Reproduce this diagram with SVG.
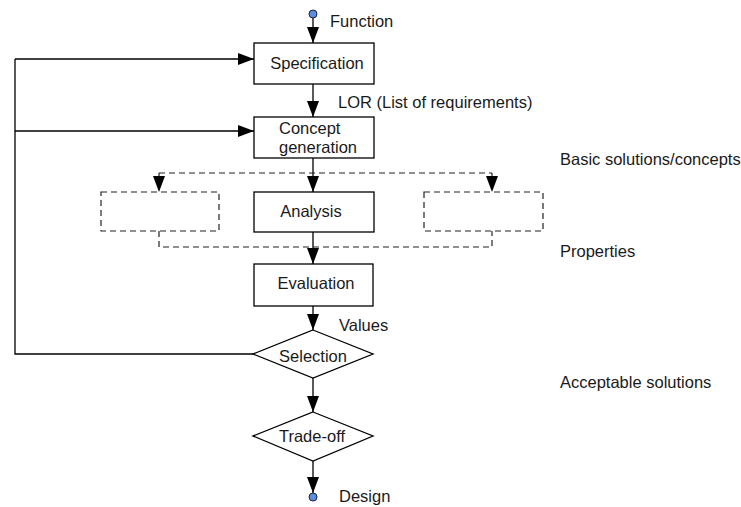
<svg xmlns="http://www.w3.org/2000/svg" width="741" height="507" viewBox="0 0 741 507">
<defs>
<marker id="ah" markerUnits="userSpaceOnUse" markerWidth="16" markerHeight="12" viewBox="0 0 16 12" refX="16" refY="6" orient="auto">
<polygon points="0,0 16,6 0,12" fill="#000"/>
</marker>
</defs>
<style>
text{font-family:"Liberation Sans",Arial,sans-serif;font-size:16.5px;fill:#1a1a1a}
.box{fill:#fff;stroke:#000;stroke-width:1.3}
.dbox{fill:#fff;stroke:#222;stroke-width:1.2;stroke-dasharray:6,4}
.ln{fill:none;stroke:#000;stroke-width:1.3}
.dl{fill:none;stroke:#222;stroke-width:1.2;stroke-dasharray:6,4}
.pt{fill:#5b8de0;stroke:#223;stroke-width:1}
.mid{text-anchor:middle}
</style>
<rect width="741" height="507" fill="#fff"/>
<g id="connectors">
<line class="ln" x1="313" y1="18" x2="313" y2="43" marker-end="url(#ah)"/>
<line class="ln" x1="313" y1="84" x2="313" y2="117" marker-end="url(#ah)"/>
<line class="ln" x1="313" y1="158" x2="313" y2="192" marker-end="url(#ah)"/>
<line class="ln" x1="313" y1="232" x2="313" y2="264" marker-end="url(#ah)"/>
<line class="ln" x1="313" y1="306" x2="313" y2="330" marker-end="url(#ah)"/>
<line class="ln" x1="313" y1="378" x2="313" y2="412" marker-end="url(#ah)"/>
<line class="ln" x1="313" y1="461" x2="313" y2="493" marker-end="url(#ah)"/>
<polyline class="dl" points="159,173 492,173"/>
<line class="dl" x1="159" y1="173" x2="159" y2="192" marker-end="url(#ah)"/>
<line class="dl" x1="492" y1="173" x2="492" y2="192" marker-end="url(#ah)"/>
<polyline class="dl" points="159,231 159,247 492,247 492,231"/>
<polyline class="ln" points="253,354 15,354 15,59"/>
<line class="ln" x1="15" y1="59" x2="254" y2="59" marker-end="url(#ah)"/>
<line class="ln" x1="15" y1="131" x2="254" y2="131" marker-end="url(#ah)"/>
</g>
<g id="function"><circle class="pt" cx="313" cy="14" r="4"/><text x="330" y="27">Function</text></g>
<g id="specification"><rect class="box" x="254" y="43" width="120" height="41"/><text class="mid" x="317" y="69">Specification</text></g>
<g id="lor"><text x="338" y="108">LOR (List of requirements)</text></g>
<g id="concept"><rect class="box" x="254" y="117" width="120" height="41"/><text x="279" y="134">Concept</text><text x="279" y="153">generation</text></g>
<g id="basic"><text x="560" y="165">Basic solutions/concepts</text></g>
<g id="alt-left"><rect class="dbox" x="101" y="192" width="118" height="39"/></g>
<g id="analysis"><rect class="box" x="254" y="192" width="120" height="40"/><text class="mid" x="311" y="217">Analysis</text></g>
<g id="alt-right"><rect class="dbox" x="424" y="192" width="119" height="39"/></g>
<g id="properties"><text x="560" y="257">Properties</text></g>
<g id="evaluation"><rect class="box" x="254" y="264" width="119" height="42"/><text class="mid" x="316" y="289">Evaluation</text></g>
<g id="values"><text x="339" y="331">Values</text></g>
<g id="selection"><polygon class="box" points="313,330 373,354 313,378 253,354"/><text class="mid" x="313" y="362">Selection</text></g>
<g id="acceptable"><text x="560" y="388">Acceptable solutions</text></g>
<g id="tradeoff"><polygon class="box" points="313,412 373,436 313,461 253,436"/><text class="mid" x="312" y="442">Trade-off</text></g>
<g id="design"><circle class="pt" cx="313" cy="497" r="4"/><text x="339" y="502">Design</text></g>
</svg>
